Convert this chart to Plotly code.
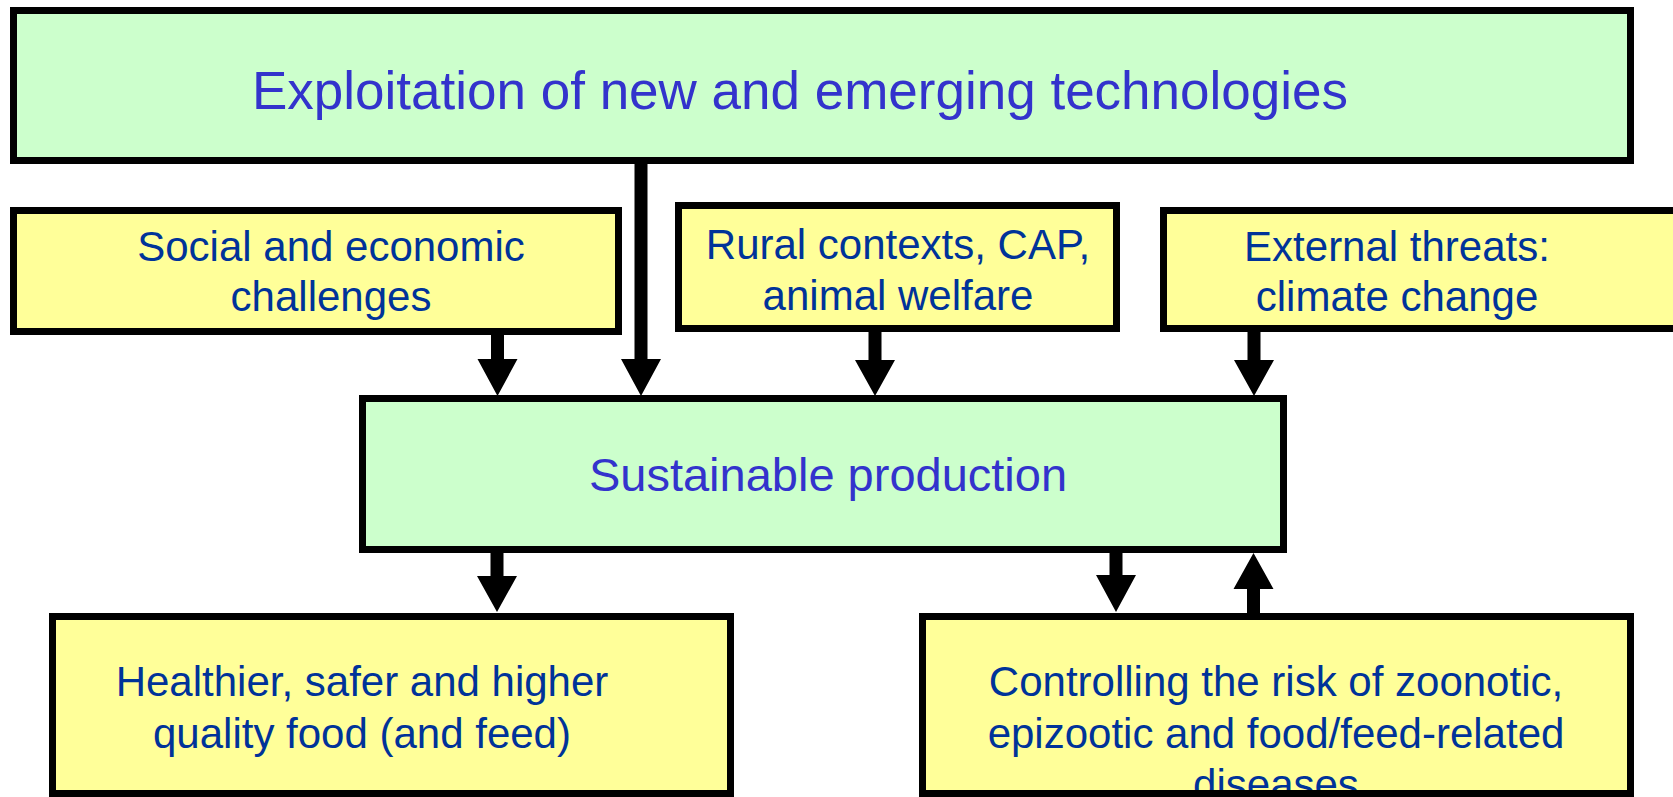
import plotly.graph_objects as go

# ---- diagram content ----
box_names = ["top", "social", "rural", "external", "central", "healthier", "controlling"]
box_lines = [
    ["Exploitation of new and emerging technologies"],
    ["Social and economic", "challenges"],
    ["Rural contexts, CAP,", "animal welfare"],
    ["External threats:", "climate change"],
    ["Sustainable production"],
    ["Healthier, safer and higher", "quality food (and feed)"],
    ["Controlling the risk of zoonotic,", "epizootic and food/feed-related", "diseases"],
]
box_kind = ["green", "yellow", "yellow", "yellow", "green", "yellow", "yellow"]

# arrows: (from box, to box)
arrow_links = [("social", "central"), ("top", "central"), ("rural", "central"),
               ("external", "central"), ("central", "healthier"),
               ("central", "controlling"), ("controlling", "central")]

# ---- layout (pixel geometry, y downwards) ----
W, H = 1673, 797
BW = 7  # border width
box_outer = {  # x0, x1, y0, y1 (outer edges)
    "top": (10, 1634, 7, 164),
    "social": (10, 622, 207, 335),
    "rural": (675, 1120, 202, 332),
    "external": (1160, 1720, 207, 332),
    "central": (359, 1287, 395, 553),
    "healthier": (49, 734, 613, 797),
    "controlling": (919, 1634, 613, 797),
}
# text: center x, baselines, font size
text_pos = {
    "top": (800, [108], 53),
    "social": (331, [260, 310], 42),
    "rural": (898, [258, 309], 42),
    "external": (1397, [260, 310], 42),
    "central": (828, [490], 47),
    "healthier": (362, [695, 747], 42),
    "controlling": (1276, [695, 747, 798], 42),
}
arrow_geom = [  # x, start y, head base y, tip y
    (497.5, 335, 359, 396),
    (641, 164, 359, 396),
    (875, 332, 360, 396),
    (1254, 332, 360, 396),
    (497, 553, 576, 612),
    (1116, 553, 575, 612),
    (1253.5, 613, 589, 553),
]
fills = {"green": "#CCFFCC", "yellow": "#FFFF99"}
text_colors = {"green": "#3333CC", "yellow": "#003399"}

fig = go.Figure()
shapes = []
for name, kind in zip(box_names, box_kind):
    x0, x1, y0, y1 = box_outer[name]
    h = BW / 2
    shapes.append(dict(type="rect", xref="x", yref="y", x0=x0, x1=x1, y0=y0, y1=y1,
                       fillcolor=fills[kind], line=dict(width=0), layer="below"))
    shapes.append(dict(type="rect", xref="x", yref="y", x0=x0 + h, x1=x1 - h, y0=y0 + h, y1=y1 - h,
                       fillcolor="rgba(0,0,0,0)", line=dict(color="black", width=BW), layer="above"))

SW, HW = 6.5, 20
for (x, ys, yb, yt) in arrow_geom:
    path = (f"M {x-SW},{ys} L {x+SW},{ys} L {x+SW},{yb} L {x+HW},{yb} "
            f"L {x},{yt} L {x-HW},{yb} L {x-SW},{yb} Z")
    shapes.append(dict(type="path", xref="x", yref="y", path=path,
                       fillcolor="black", line=dict(width=0), layer="above"))

tx, ty, tt, ts, tc = [], [], [], [], []
for name, kind, lines in zip(box_names, box_kind, box_lines):
    cx, baselines, size = text_pos[name]
    for line, b in zip(lines, baselines):
        tx.append(cx)
        ty.append(b - 0.23 * size)
        tt.append(line)
        ts.append(size)
        tc.append(text_colors[kind])

fig.add_trace(go.Scatter(x=tx, y=ty, text=tt, mode="text", textposition="middle center",
                         textfont=dict(family="Liberation Sans, Arial, sans-serif", size=ts, color=tc),
                         hoverinfo="skip", showlegend=False, cliponaxis=True))

fig.update_layout(
    width=W, height=H, margin=dict(l=0, r=0, t=0, b=0),
    paper_bgcolor="white", plot_bgcolor="white", shapes=shapes, showlegend=False,
    xaxis=dict(range=[0, W], visible=False, fixedrange=True),
    yaxis=dict(range=[H, 0], visible=False, fixedrange=True),
)
fig.write_html("out.html", config={"displayModeBar": False},
               post_script="document.body.style.margin='0';document.body.style.overflow='hidden';")
